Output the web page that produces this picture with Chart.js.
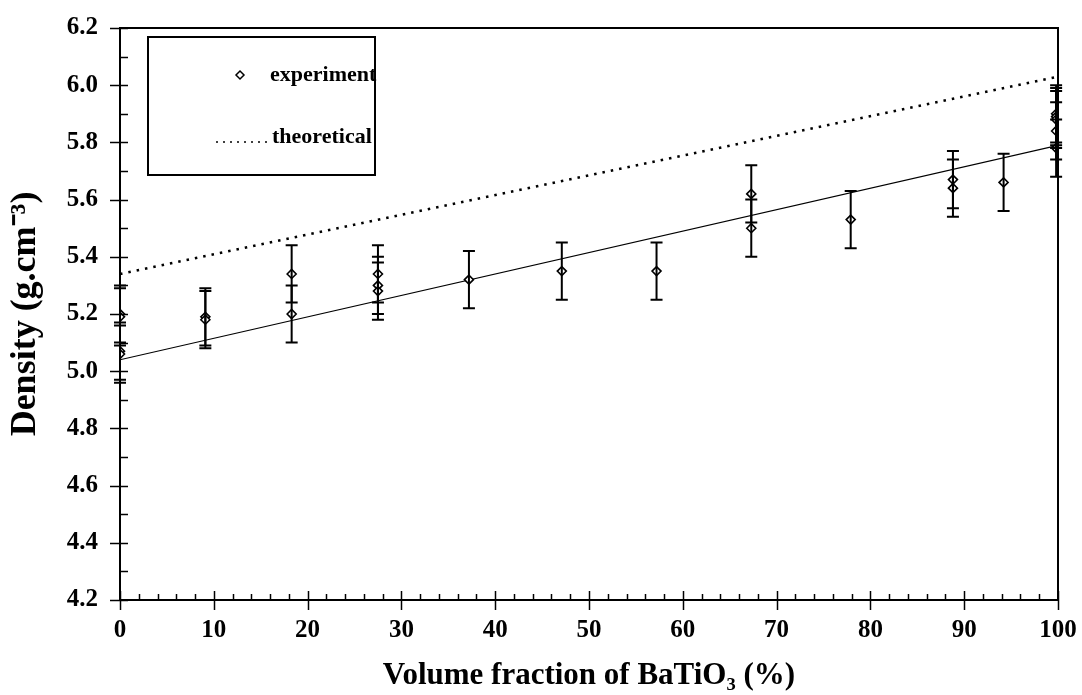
<!DOCTYPE html>
<html lang="en">
<head>
  <meta charset="UTF-8">
  <title>Density vs volume fraction of BaTiO3</title>
  <script src="https://cdn.jsdelivr.net/npm/chart.js"></script>
  <style>
    body {
      margin: 0;
      background: #fff;
    }
    #wrap {
      width: 1082px;
      height: 695px;
      position: relative;
    }
  </style>
</head>
<body>
  <div id="wrap"><canvas id="densityChart"></canvas></div>

  <script>
    // measured points (volume fraction %, density g/cm3, +/- error)
    const expX = [0, 0, 0, 0, 9.1, 9.1, 18.3, 18.3, 27.5, 27.5, 27.5, 37.2, 47.1, 57.2, 67.3, 67.3, 77.9, 88.8, 88.8, 94.2, 99.8, 99.8, 99.8, 99.8, 99.8];
    const expY = [5.20, 5.19, 5.07, 5.06, 5.19, 5.18, 5.34, 5.20, 5.34, 5.30, 5.28, 5.32, 5.35, 5.35, 5.62, 5.50, 5.53, 5.67, 5.64, 5.66, 5.90, 5.89, 5.88, 5.84, 5.78];
    const expErr = [0.10, 0.10, 0.10, 0.10, 0.10, 0.10, 0.10, 0.10, 0.10, 0.10, 0.10, 0.10, 0.10, 0.10, 0.10, 0.10, 0.10, 0.10, 0.10, 0.10, 0.10, 0.10, 0.10, 0.10, 0.10];

    // linear fit through the experiment
    const fitX = [0, 100];
    const fitY = [5.04, 5.79];

    // theoretical density
    const theoX = [0, 100];
    const theoY = [5.34, 6.03];

    const xTicks = [0, 10, 20, 30, 40, 50, 60, 70, 80, 90, 100];
    const yTicks = [4.2, 4.4, 4.6, 4.8, 5.0, 5.2, 5.4, 5.6, 5.8, 6.0, 6.2];

    const serif = "'Liberation Serif', 'Times New Roman', serif";

    function toPts(xs, ys) {
      return xs.map((x, i) => ({ x: x, y: ys[i] }));
    }

    // error bars, tick marks, frame and the boxed legend
    const extras = {
      id: 'extras',
      afterDatasetsDraw(chart) {
        const c = chart.ctx;
        const xs = chart.scales.x;
        const ys = chart.scales.y;
        const a = chart.chartArea;
        c.save();
        c.strokeStyle = '#000';

        // error bars
        c.lineWidth = 2;
        expX.forEach((x, i) => {
          const px = xs.getPixelForValue(x);
          const top = ys.getPixelForValue(expY[i] + expErr[i]);
          const bot = ys.getPixelForValue(expY[i] - expErr[i]);
          c.beginPath();
          c.moveTo(px, top); c.lineTo(px, bot);
          c.moveTo(px - 6, top); c.lineTo(px + 6, top);
          c.moveTo(px - 6, bot); c.lineTo(px + 6, bot);
          c.stroke();
        });

        // frame
        c.lineWidth = 2;
        c.strokeRect(a.left, a.top, a.right - a.left, a.bottom - a.top);

        // y ticks: major crossing the axis, minor inside
        c.lineWidth = 1.5;
        for (let v = 4.2; v <= 6.201; v += 0.1) {
          const py = Math.round(ys.getPixelForValue(v)) + 0.5;
          const major = Math.abs(Math.round(v * 5) - v * 5) < 0.01;
          c.beginPath();
          c.moveTo(major ? a.left - 10 : a.left, py);
          c.lineTo(a.left + 8, py);
          c.stroke();
        }
        // x ticks
        for (let v = 0; v <= 100; v += 2) {
          const px = Math.round(xs.getPixelForValue(v)) + 0.5;
          const major = v % 10 === 0;
          c.beginPath();
          c.moveTo(px, major ? a.bottom + 10 : a.bottom);
          c.lineTo(px, a.bottom - (major ? 9 : 6));
          c.stroke();
        }

        // legend box
        c.lineWidth = 2;
        c.strokeRect(148, 37, 227, 138);
        c.fillStyle = '#000';
        c.font = 'bold 22px ' + serif;
        c.textBaseline = 'middle';
        c.fillText('experiment', 270, 75);
        c.fillText('theoretical', 272, 137);
        // legend marker
        c.lineWidth = 1.5;
        c.fillStyle = '#fff';
        c.beginPath();
        c.moveTo(240, 71); c.lineTo(244, 75); c.lineTo(240, 79); c.lineTo(236, 75);
        c.closePath();
        c.fill(); c.stroke();
        // legend dotted line
        c.setLineDash([2, 5]);
        c.lineWidth = 1.5;
        c.beginPath();
        c.moveTo(216, 142); c.lineTo(268, 142);
        c.stroke();
        c.restore();
      }
    };

    const ctx = document.getElementById('densityChart').getContext('2d');
    const chart = new Chart(ctx, {
      type: 'scatter',
      data: {
        datasets: [
          {
            label: 'theoretical',
            data: toPts(theoX, theoY),
            showLine: true,
            borderColor: '#000',
            borderWidth: 2.5,
            borderDash: [2.5, 6],
            pointRadius: 0,
            order: 3
          },
          {
            label: 'fit',
            data: toPts(fitX, fitY),
            showLine: true,
            borderColor: '#000',
            borderWidth: 1.2,
            pointRadius: 0,
            order: 2
          },
          {
            label: 'experiment',
            data: toPts(expX, expY),
            pointStyle: 'rectRot',
            pointRadius: 4.5,
            pointBackgroundColor: '#fff',
            pointBorderColor: '#000',
            pointBorderWidth: 1.6,
            order: 1
          }
        ]
      },
      options: {
        responsive: true,
        maintainAspectRatio: false,
        animation: false,
        layout: { padding: { left: 0, right: 24, top: 28, bottom: 0 } },
        plugins: {
          legend: { display: false },
          tooltip: { enabled: false }
        },
        scales: {
          x: {
            type: 'linear',
            min: 0,
            max: 100,
            afterBuildTicks: s => { s.ticks = xTicks.map(v => ({ value: v })); },
            afterFit: s => { s.height = 95; s.paddingLeft = 0; s.paddingRight = 0; },
            grid: { display: false, drawTicks: false },
            border: { display: false },
            ticks: {
              color: '#000',
              padding: 16,
              maxRotation: 0,
              font: { family: serif, size: 25, weight: 'bold' }
            },
            title: {
              display: true,
              text: 'Volume fraction of BaTiO₃ (%)',
              color: '#000',
              font: { family: serif, size: 31, weight: 'bold' },
              padding: { top: 8, bottom: 0 }
            }
          },
          y: {
            type: 'linear',
            min: 4.2,
            max: 6.2,
            afterBuildTicks: s => { s.ticks = yTicks.map(v => ({ value: v })); },
            afterFit: s => { s.width = 120; s.paddingTop = 0; s.paddingBottom = 0; },
            grid: { display: false, drawTicks: false },
            border: { display: false },
            ticks: {
              color: '#000',
              padding: 22,
              callback: v => v.toFixed(1),
              font: { family: serif, size: 25, weight: 'bold' }
            },
            title: {
              display: true,
              text: 'Density (g.cm⁻³)',
              color: '#000',
              font: { family: serif, size: 36, weight: 'bold' },
              padding: { top: 4, bottom: 6 }
            }
          }
        }
      },
      plugins: [extras]
    });
  </script>
</body>
</html>
